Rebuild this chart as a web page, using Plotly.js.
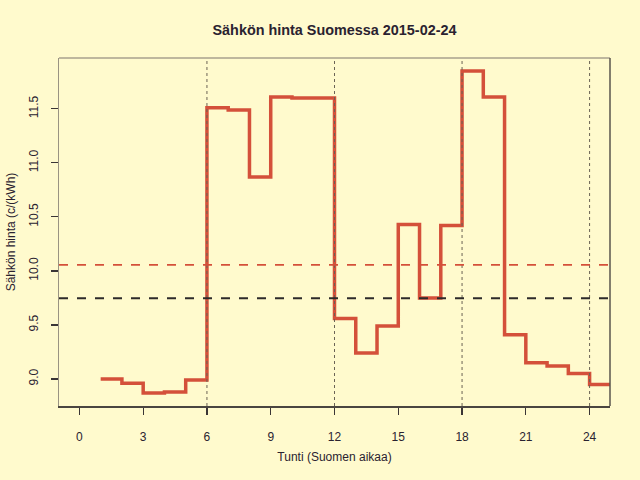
<!DOCTYPE html>
<html>
<head>
<meta charset="utf-8">
<script src="https://cdn.plot.ly/plotly-3.0.1.min.js"></script>
<style>
  html, body { margin: 0; padding: 0; background: #fffacd; }
  #chart { width: 640px; height: 480px; }
</style>
</head>
<body>
<div id="chart"></div>
<script>
// tunnit ja hinnat (c/kWh), viimeinen tunti toistetaan jotta porras piirtyy loppuun
var hours = [1, 2, 3, 4, 5, 6, 7, 8, 9, 10, 11, 12, 13, 14, 15, 16, 17, 18, 19, 20, 21, 22, 23, 24, 25];
var prices = [9.00, 8.96, 8.87, 8.88, 8.99, 11.51, 11.49, 10.87, 11.61, 11.60, 11.60, 9.56,
              9.24, 9.49, 10.43, 9.75, 10.42, 11.85, 11.61, 9.41, 9.15, 9.12, 9.05, 8.95, 8.95];
var meanDay = 10.056;
var meanRef = 9.746;
var markHours = [6, 12, 18, 24];

var font = "Liberation Sans, Arial, sans-serif";
var textColor = "#2a2230";

var price = {
    x: hours,
    y: prices,
    mode: 'lines',
    line: { shape: 'hv', color: '#d4503a', width: 3.5 },
    hoverinfo: 'x+y',
    showlegend: false
};

var shapes = [];
markHours.forEach(function (h) {
    shapes.push({
        type: 'line', xref: 'x', yref: 'paper', x0: h, x1: h, y0: 0, y1: 1,
        line: { color: '#6b6355', width: 1, dash: 'dot' }
    });
});
shapes.push({
    type: 'line', xref: 'paper', yref: 'y', x0: 0, x1: 1, y0: meanDay, y1: meanDay,
    line: { color: '#d4503a', width: 1.6, dash: 'dash' }
});
shapes.push({
    type: 'line', xref: 'paper', yref: 'y', x0: 0, x1: 1, y0: meanRef, y1: meanRef,
    line: { color: '#2d2a2a', width: 2, dash: 'dash' }
});
// laatikon ylä- ja oikea reuna
shapes.push({
    type: 'line', xref: 'paper', yref: 'paper', x0: 0, x1: 1, y0: 1, y1: 1,
    line: { color: '#a8a08c', width: 1.5 }
});
shapes.push({
    type: 'line', xref: 'paper', yref: 'paper', x0: 1, x1: 1, y0: 0, y1: 1,
    line: { color: '#5a554c', width: 1.5 }
});

var layout = {
    width: 640,
    height: 480,
    paper_bgcolor: '#fffacd',
    plot_bgcolor: '#fffacd',
    margin: { l: 59, r: 30, t: 58, b: 74 },
    font: { family: font, size: 12, color: textColor },
    title: {
        text: '<b>Sähkön hinta Suomessa 2015-02-24</b>',
        font: { family: font, size: 14.4, color: textColor },
        x: 0.5, xref: 'paper', xanchor: 'center',
        y: 1 - 30 / 480, yanchor: 'middle'
    },
    xaxis: {
        range: [-0.96, 24.96],
        tick0: 0,
        dtick: 3,
        ticks: 'outside',
        ticklen: 7,
        tickcolor: '#3a3535',
        tickwidth: 1.2,
        ticklabelstandoff: 12,
        showgrid: false,
        zeroline: false,
        showline: true,
        linecolor: '#4a4540',
        linewidth: 1.5,
        tickfont: { family: font, size: 12, color: textColor },
        title: {
            text: 'Tunti (Suomen aikaa)',
            font: { family: font, size: 12, color: textColor },
            standoff: 9
        }
    },
    yaxis: {
        range: [8.75, 11.97],
        tick0: 9,
        dtick: 0.5,
        tickformat: '.1f',
        tickangle: -90,
        ticks: 'outside',
        ticklen: 7,
        tickcolor: '#3a3535',
        tickwidth: 1.2,
        ticklabelstandoff: 8,
        showgrid: false,
        zeroline: false,
        showline: true,
        linecolor: '#9a9382',
        linewidth: 1.5,
        tickfont: { family: font, size: 12, color: textColor },
        title: {
            text: 'Sähkön hinta (c/(kWh)',
            font: { family: font, size: 12, color: textColor },
            standoff: 8
        }
    },
    shapes: shapes
};

Plotly.newPlot('chart', [price], layout, { displayModeBar: false, staticPlot: true });
</script>
</body>
</html>
